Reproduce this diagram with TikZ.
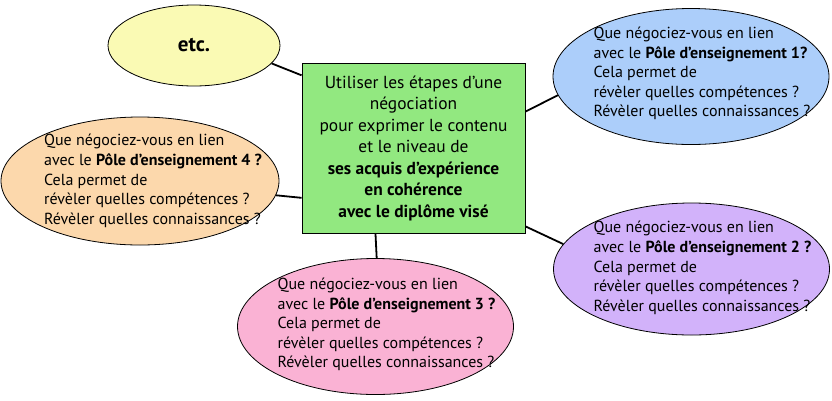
\documentclass[tikz,border=0pt]{standalone}
\usepackage{fontspec}
\setmainfont{PT Sans}
\usetikzlibrary{shapes.geometric}
\definecolor{BoxGreen}{RGB}{146, 232, 128}
\definecolor{EtcYellow}{RGB}{250, 250, 180}
\definecolor{PoleBlue}{RGB}{172, 206, 250}
\definecolor{PolePurple}{RGB}{210, 178, 250}
\definecolor{PolePink}{RGB}{250, 178, 212}
\definecolor{PoleOrange}{RGB}{252, 216, 172}

\begin{document}
\begin{tikzpicture}[x=1pt, y=-1pt,
    pole/.style={ellipse, draw=black, line width=0.8pt, inner sep=0pt,
      minimum width=276pt, minimum height=136pt},
    poletext/.style={align=left, font=\fontsize{16}{19.6}\selectfont},
    link/.style={line width=1.8pt}]
    \useasboundingbox (0,0) rectangle (832,400);

    % Centre
    \node[draw, line width=0.8pt, fill=BoxGreen, minimum width=223pt, minimum height=170pt,
      inner sep=0pt, align=center, font=\fontsize{17.4}{21.5}\selectfont] (centre) at (413.5,148)
      {Utiliser les étapes d’une\\négociation\\pour exprimer le contenu\\et le niveau de\\
       \textbf{ses acquis d’expérience}\\\textbf{en cohérence}\\\textbf{avec le diplôme visé}};

    % etc.
    \node[pole, fill=EtcYellow, minimum width=172pt, minimum height=81pt,
      font=\fontsize{21}{25}\selectfont\bfseries] (etc) at (194,45.5) {etc.};

    % Poles
    \node[pole, fill=PoleBlue, label={[poletext, xshift=11pt, yshift=3pt]center:{Que négociez-vous en lien\\avec le \textbf{Pôle d’enseignement 1?}\\Cela permet de\\révèler quelles compétences ?\\Révèler quelles connaissances ?}}] (pole1) at (691,76.5) {};
    \node[pole, fill=PolePurple, minimum height=132pt, label={[poletext, xshift=11pt, yshift=1pt]center:{Que négociez-vous en lien\\avec le \textbf{Pôle d’enseignement 2 ?}\\Cela permet de\\révèler quelles compétences ?\\Révèler quelles connaissances ?}}] (pole2) at (691.5,269) {};
    \node[pole, fill=PolePink, label={[poletext, xshift=11pt, yshift=2pt]center:{Que négociez-vous en lien\\avec le \textbf{Pôle d’enseignement 3 ?}\\Cela permet de\\révèler quelles compétences ?\\Révèler quelles connaissances ?}}] (pole3) at (375.5,326.5) {};
    \node[pole, fill=PoleOrange, minimum width=278pt, minimum height=128pt, label={[poletext, xshift=13pt]center:{Que négociez-vous en lien\\avec le \textbf{Pôle d’enseignement 4 ?}\\Cela permet de\\révèler quelles compétences ?\\Révèler quelles connaissances ?}}] (pole4) at (140,181) {};

    % Links
    \draw[link] (etc.-13) -- (centre.147.5);
    \draw[link] (centre.18.8) -- (pole1.188);
    \draw[link] (pole4.-6.7) -- (centre.204.2);
    \draw[link] (centre.246.2) -- (pole3.89);
    \draw[link] (centre.-35.7) -- (pole2.169);
\end{tikzpicture}
\end{document}
